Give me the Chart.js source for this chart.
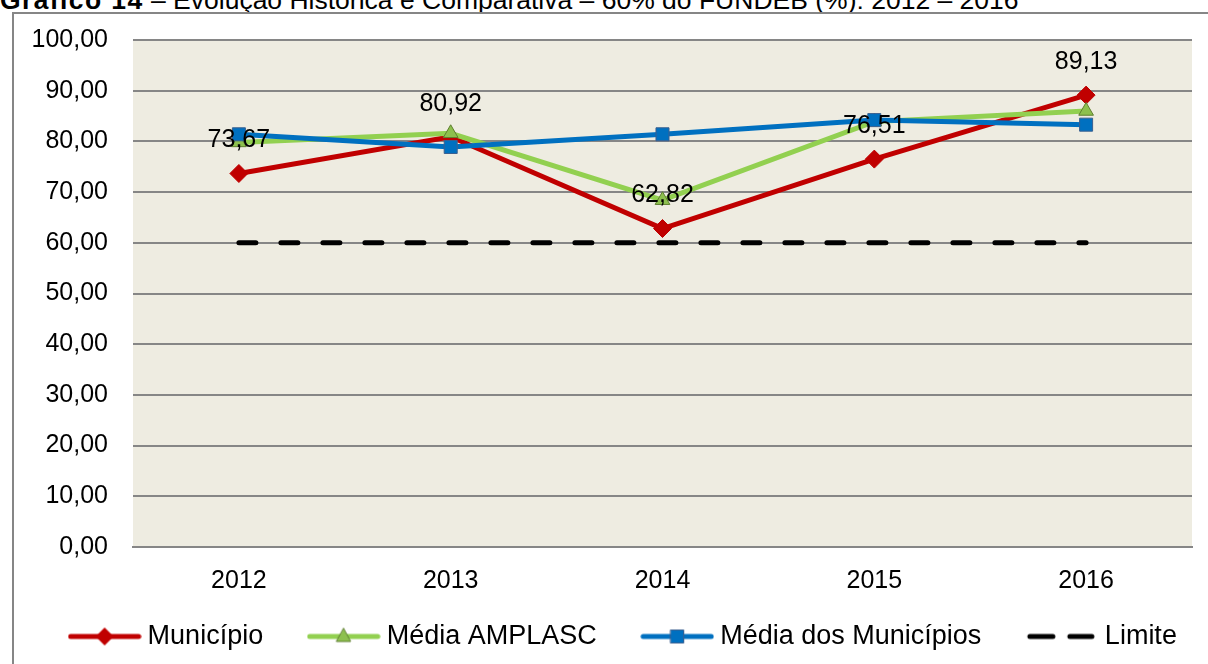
<!DOCTYPE html>
<html>
<head>
<meta charset="utf-8">
<script src="https://cdn.jsdelivr.net/npm/chart.js@4/dist/chart.umd.min.js"></script>
<style>
  html, body { margin: 0; padding: 0; background: #fff; overflow: hidden; }
  body { width: 1208px; height: 664px; position: relative; font-family: Arial, "Liberation Sans", sans-serif; }
  #title { position: absolute; left: 0; top: -13px; font-size: 26.5px; line-height: 26px; white-space: nowrap; color: #000; }
  #title b { letter-spacing: 1.4px; }
  #frame { position: absolute; left: 12px; top: 12px; width: 1210px; height: 660px; border-left: 2px solid #868686; border-top: 2px solid #868686; }
  #wrap { position: absolute; left: 12px; top: 12px; width: 1260px; height: 652px; }
</style>
</head>
<body>
<div id="title"><b>Gráfico 14</b> – Evolução Histórica e Comparativa – 60% do FUNDEB (%): 2012 – 2016</div>
<div id="frame"></div>
<div id="wrap"><canvas id="chart"></canvas></div>
<script>
const years = ['2012', '2013', '2014', '2015', '2016'];
const municipio = [73.67, 80.92, 62.82, 76.51, 89.13];
const mediaAmplasc = [79.8, 81.6, 68.4, 83.9, 86.0];
const mediaMunicipios = [81.4, 78.9, 81.4, 84.2, 83.3];
const limite = [60, 60, 60, 60, 60];
const yMin = 0;
const yMax = 100;
const yStep = 10;

const RED = '#C00000';
const GREEN = '#92D050';
const BLUE = '#0070C0';
const FONT = 'Arial, "Liberation Sans", sans-serif';

function fmt(v) {
  return v.toFixed(2).replace('.', ',');
}

// small legend samples: line with the marker in the middle
function legendSample(kind) {
  const c = document.createElement('canvas');
  c.width = 74;
  c.height = 22;
  const g = c.getContext('2d');
  const cy = 11;
  g.lineCap = 'round';
  g.lineWidth = 5;
  if (kind === 'dash') {
    g.strokeStyle = '#000';
    g.beginPath();
    g.moveTo(5, cy); g.lineTo(28, cy);
    g.moveTo(45, cy); g.lineTo(67, cy);
    g.stroke();
    return c;
  }
  g.strokeStyle = kind === 'diamond' ? RED : kind === 'triangle' ? GREEN : BLUE;
  g.beginPath();
  g.moveTo(3, cy); g.lineTo(71, cy);
  g.stroke();
  g.lineWidth = 1;
  g.beginPath();
  if (kind === 'diamond') {
    g.fillStyle = RED;
    g.moveTo(37, cy - 9); g.lineTo(46, cy); g.lineTo(37, cy + 9); g.lineTo(28, cy);
    g.closePath();
    g.fill();
  } else if (kind === 'triangle') {
    g.fillStyle = '#8DC04E';
    g.strokeStyle = '#5F7F30';
    g.moveTo(37, cy - 8); g.lineTo(44, cy + 5); g.lineTo(30, cy + 5);
    g.closePath();
    g.fill(); g.stroke();
  } else {
    g.fillStyle = BLUE;
    g.strokeStyle = '#3A5F8F';
    g.rect(30.5, cy - 6.5, 13, 13);
    g.fill(); g.stroke();
  }
  return c;
}

const plotBackground = {
  id: 'plotBackground',
  beforeDraw(chart) {
    const { ctx, chartArea } = chart;
    ctx.save();
    ctx.fillStyle = '#EEECE1';
    ctx.fillRect(chartArea.left, chartArea.top, chartArea.right - chartArea.left, chartArea.bottom - chartArea.top);
    ctx.restore();
  }
};

// move the legend row to where the original has it
const legendPlace = {
  id: 'legendPlace',
  afterLayout(chart) {
    const lg = chart.legend;
    if (!lg) return;
    const h = lg.bottom - lg.top;
    lg.top = 560;
    lg.bottom = 560 + h;
    lg.left -= 16;
    lg.right -= 16;
  }
};

const valueLabels = {
  id: 'valueLabels',
  afterDatasetsDraw(chart) {
    const { ctx } = chart;
    const meta = chart.getDatasetMeta(0);
    ctx.save();
    ctx.font = '25px ' + FONT;
    ctx.fillStyle = '#000';
    ctx.textAlign = 'center';
    ctx.textBaseline = 'middle';
    meta.data.forEach((pt, i) => {
      ctx.fillText(fmt(municipio[i]), pt.x, pt.y - 33);
    });
    ctx.restore();
  }
};

new Chart(document.getElementById('chart'), {
  type: 'line',
  data: {
    labels: years,
    datasets: [
      {
        label: 'Município',
        data: municipio,
        borderColor: RED,
        backgroundColor: RED,
        borderWidth: 5,
        pointStyle: 'rectRot',
        pointRadius: 9,
        pointBorderWidth: 1,
        pointBorderColor: RED,
        tension: 0,
        order: 3,
        legendImg: legendSample('diamond')
      },
      {
        label: 'Média AMPLASC',
        data: mediaAmplasc,
        borderColor: GREEN,
        backgroundColor: '#8DC04E',
        borderWidth: 5,
        pointStyle: 'triangle',
        pointRadius: 8.5,
        pointBorderWidth: 1,
        pointBorderColor: '#5F7F30',
        tension: 0,
        order: 2,
        legendImg: legendSample('triangle')
      },
      {
        label: 'Média dos Municípios',
        data: mediaMunicipios,
        borderColor: BLUE,
        backgroundColor: BLUE,
        borderWidth: 5,
        pointStyle: 'rect',
        pointRadius: 9.2,
        pointBorderWidth: 1,
        pointBorderColor: '#3A5F8F',
        tension: 0,
        order: 1,
        legendImg: legendSample('square')
      },
      {
        label: 'Limite',
        data: limite,
        borderColor: '#000',
        backgroundColor: '#000',
        borderWidth: 5,
        borderDash: [17, 25],
        borderCapStyle: 'round',
        pointRadius: 0,
        tension: 0,
        order: 0,
        legendImg: legendSample('dash')
      }
    ]
  },
  options: {
    responsive: true,
    maintainAspectRatio: false,
    animation: false,
    layout: { padding: { top: 28, right: 0, left: 0, bottom: -31 } },
    plugins: {
      tooltip: { enabled: false },
      legend: {
        position: 'bottom',
        labels: {
          usePointStyle: true,
          pointStyleWidth: 59,
          padding: 51,
          color: '#000',
          font: { family: FONT, size: 27 },
          generateLabels(chart) {
            return chart.data.datasets.map((ds, i) => ({
              text: ds.label,
              datasetIndex: i,
              pointStyle: ds.legendImg,
              fillStyle: ds.borderColor,
              strokeStyle: ds.borderColor,
              lineWidth: 0,
              hidden: false,
              fontColor: '#000'
            }));
          }
        }
      }
    },
    scales: {
      x: {
        offset: true,
        grid: { display: false, drawTicks: false },
        border: { display: true, color: '#868686', width: 2 },
        ticks: { color: '#000', padding: 19, font: { family: FONT, size: 25 } },
        afterFit(scale) { scale.height = 60; }
      },
      y: {
        min: yMin,
        max: yMax,
        // invisible tick marks keep the labels 25px off the plot
        grid: { color: '#868686', lineWidth: 2, drawTicks: true, tickLength: 25, tickColor: 'rgba(0,0,0,0)' },
        border: { display: false },
        ticks: {
          stepSize: yStep,
          color: '#000',
          padding: 0,
          font: { family: FONT, size: 25 },
          callback: (v) => fmt(v)
        },
        afterFit(scale) { scale.width = 121; }
      },
      // empty right-hand box so the plot stops where the original does
      spacer: {
        type: 'linear',
        position: 'right',
        display: true,
        grid: { display: false, drawTicks: false },
        border: { display: false },
        ticks: { display: false },
        afterFit(scale) { scale.width = 80; }
      }
    }
  },
  plugins: [plotBackground, legendPlace, valueLabels]
});
</script>
</body>
</html>
